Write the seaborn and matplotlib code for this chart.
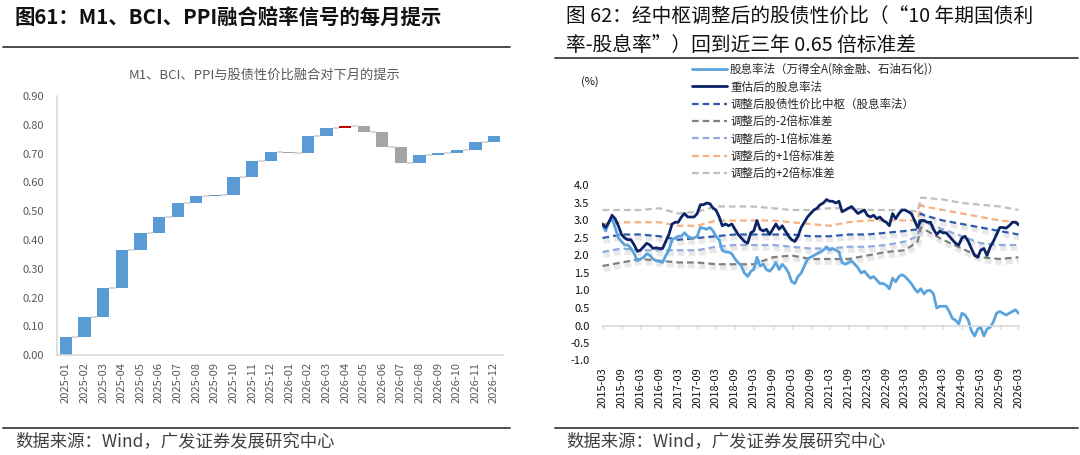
import numpy as np
import pandas as pd
import matplotlib
matplotlib.use('Agg')
import matplotlib.pyplot as plt
import matplotlib.patheffects as pe
from matplotlib.lines import Line2D
import seaborn as sns

sns.set_theme(style='white')
plt.rcParams['font.family'] = ['Noto Sans CJK SC', 'DejaVu Sans']
plt.rcParams['axes.unicode_minus'] = False

# ---- 左图：融合信号瀑布图（累计水平）----
wf_months = ['2025-01', '2025-02', '2025-03', '2025-04', '2025-05', '2025-06',
             '2025-07', '2025-08', '2025-09', '2025-10', '2025-11', '2025-12',
             '2026-01', '2026-02', '2026-03', '2026-04', '2026-05', '2026-06',
             '2026-07', '2026-08', '2026-09', '2026-10', '2026-11', '2026-12']
wf_levels = [0.063, 0.133, 0.234, 0.365, 0.426, 0.479, 0.527, 0.552, 0.555, 0.620,
             0.673, 0.706, 0.703, 0.760, 0.789, 0.796, 0.774, 0.724, 0.669, 0.696,
             0.702, 0.713, 0.742, 0.761]
wf_highlight = '2026-04'

# ---- 右图：股息率法与重估后的股息率法（月度）----
dy_start, dy_end = '2015-03-01', '2026-03-01'
dividend_yield = [
    2.85, 2.70, 2.95, 3.05, 2.80, 2.50, 2.40, 2.30, 2.30, 2.20, 2.05, 1.85,
    1.90, 1.95, 2.05, 2.00, 1.90, 1.85, 1.83, 1.80, 2.00, 2.15, 2.45, 2.50,
    2.55, 2.55, 2.65, 2.55, 2.50, 2.50, 2.55, 2.80, 2.78, 2.75, 2.80, 2.70,
    2.55, 2.45, 2.15, 2.10, 2.10, 2.05, 1.90, 1.80, 1.70, 1.50, 1.40, 1.55,
    1.60, 1.95, 1.70, 1.75, 1.60, 1.55, 1.65, 1.80, 1.60, 1.75, 1.65, 1.50,
    1.25, 1.20, 1.40, 1.50, 1.70, 1.90, 1.95, 2.00, 2.05, 2.10, 2.15, 2.25,
    2.15, 2.20, 2.15, 2.10, 1.80, 1.75, 1.80, 1.85, 1.75, 1.65, 1.50, 1.55,
    1.45, 1.35, 1.40, 1.30, 1.20, 1.20, 1.15, 1.05, 1.35, 1.25, 1.40, 1.45,
    1.40, 1.30, 1.20, 1.05, 0.95, 1.05, 0.90, 1.00, 1.00, 0.90, 0.50, 0.55,
    0.55, 0.55, 0.40, 0.20, 0.15, 0.05, 0.35, 0.30, 0.15, -0.15, -0.30, -0.10,
    -0.05, -0.30, -0.10, -0.05, 0.10, 0.35, 0.40, 0.35, 0.30, 0.35, 0.40, 0.45,
    0.35]
revalued_yield = [
    2.90, 2.80, 2.95, 3.15, 3.05, 2.85, 2.60, 2.50, 2.45, 2.45, 2.30, 2.12,
    2.15, 2.25, 2.35, 2.30, 2.20, 2.22, 2.20, 2.20, 2.40, 2.60, 2.90, 2.95,
    2.95, 3.10, 3.20, 3.10, 3.10, 3.10, 3.20, 3.45, 3.45, 3.50, 3.48, 3.35,
    3.30, 3.10, 2.85, 2.90, 2.85, 2.90, 2.75, 2.60, 2.50, 2.40, 2.35, 2.65,
    2.70, 3.00, 2.75, 2.70, 2.75, 2.60, 2.75, 2.90, 2.75, 2.85, 2.70, 2.55,
    2.45, 2.40, 2.55, 2.80, 2.95, 3.10, 3.20, 3.30, 3.35, 3.45, 3.50, 3.60,
    3.55, 3.55, 3.50, 3.55, 3.25, 3.30, 3.35, 3.40, 3.30, 3.20, 3.25, 3.30,
    3.15, 3.10, 3.15, 3.05, 3.10, 3.00, 2.95, 2.85, 3.20, 3.05, 3.20, 3.30,
    3.30, 3.25, 3.20, 3.00, 2.80, 3.00, 3.00, 2.95, 2.95, 2.75, 2.60, 2.70,
    2.65, 2.65, 2.55, 2.45, 2.35, 2.30, 2.50, 2.55, 2.40, 2.20, 2.00, 1.95,
    2.15, 2.20, 2.00, 2.25, 2.40, 2.60, 2.80, 2.80, 2.78, 2.85, 2.95, 2.95,
    2.88]

# ---- 右图：调整后中枢与标准差带（节点）----
band_dates = ['2015-03', '2015-09', '2016-03', '2016-09', '2017-03', '2017-09',
              '2018-03', '2018-09', '2019-03', '2019-09', '2020-03', '2020-09',
              '2021-03', '2021-09', '2022-03', '2022-09', '2023-03', '2023-07',
              '2023-08', '2023-09', '2024-03', '2024-09', '2025-03', '2025-09',
              '2026-03']
band_plus2 = [3.30, 3.30, 3.30, 3.35, 3.20, 3.25, 3.40, 3.40, 3.40, 3.35, 3.30, 3.30,
              3.35, 3.35, 3.30, 3.30, 3.30, 3.25, 3.65, 3.65, 3.60, 3.50, 3.45, 3.40, 3.30]
band_plus1 = [2.90, 2.95, 2.95, 2.95, 2.85, 2.85, 3.00, 3.00, 3.00, 3.00, 2.95, 2.90,
              2.85, 2.95, 3.00, 3.00, 3.00, 3.00, 3.45, 3.40, 3.30, 3.20, 3.10, 3.00, 2.95]
band_center = [2.50, 2.60, 2.60, 2.55, 2.45, 2.50, 2.55, 2.60, 2.60, 2.60, 2.60, 2.55,
               2.55, 2.60, 2.60, 2.65, 2.70, 2.75, 3.20, 3.15, 3.00, 2.90, 2.80, 2.70, 2.60]
band_minus1 = [2.10, 2.20, 2.15, 2.15, 2.15, 2.15, 2.25, 2.30, 2.30, 2.30, 2.25, 2.20,
               2.20, 2.25, 2.25, 2.30, 2.40, 2.55, 3.00, 2.95, 2.75, 2.55, 2.35, 2.30, 2.30]
band_minus2 = [1.70, 1.80, 1.90, 1.85, 1.80, 1.80, 1.75, 1.75, 1.75, 1.95, 2.00, 1.90,
               1.90, 1.90, 2.00, 2.10, 2.15, 2.40, 2.80, 2.75, 2.45, 2.20, 1.95, 1.90, 1.95]

W, H = 1080, 455
fig = plt.figure(figsize=(W / 100, H / 100), dpi=100)
fig.patch.set_facecolor('white')


def fx(px):
    return px / W


def fy(py):
    return 1 - py / H


# 标题与分隔线
fig.text(fx(15), fy(17), '图61：M1、BCI、PPI融合赔率信号的每月提示', fontsize=14.7,
         fontweight='bold', va='center', ha='left', color='#111111')
fig.text(fx(566), fy(17), '图 62：经中枢调整后的股债性价比（“10 年期国债利', fontsize=14.2,
         va='center', ha='left', color='#111111')
fig.text(fx(566), fy(45), '率-股息率”）回到近三年 0.65 倍标准差', fontsize=14.2,
         va='center', ha='left', color='#111111')
for x0, x1, y in [(3, 510, 47), (555, 1078, 58), (3, 510, 428), (555, 1078, 428)]:
    fig.add_artist(Line2D([fx(x0), fx(x1)], [fy(y), fy(y)], color='#404040', lw=1.3))
for x0 in (15, 566):
    fig.text(fx(x0), fy(441), '数据来源：Wind，广发证券发展研究中心', fontsize=12.5,
             va='center', ha='left', color='#404040')

# ---- 左图 ----
ax1 = fig.add_axes([fx(56.7), fy(355.3), fx(503.3 - 56.7), (355.3 - 96) / H])
levels = np.array(wf_levels)
prev = np.concatenate([[0.0], levels[:-1]])
delta = levels - prev
xpos = np.arange(len(wf_months))
colors = ['#C00000' if m == wf_highlight else ('#5B9BD5' if d > 0 else '#A5A5A5')
          for m, d in zip(wf_months, delta)]
bw = 0.66
ax1.hlines(levels[:-1], xpos[:-1] + bw / 2, xpos[1:] - bw / 2, color='#D9D9D9', lw=1.5)
ax1.bar(xpos, np.abs(delta), bottom=np.minimum(prev, levels), width=bw, color=colors,
        linewidth=0)
ax1.set_xlim(-0.5, len(wf_months) - 0.5)
ax1.set_ylim(0, 0.9)
ax1.set_yticks(np.arange(0, 0.91, 0.1))
ax1.yaxis.set_major_formatter(matplotlib.ticker.FormatStrFormatter('%.2f'))
ax1.set_xticks(xpos)
ax1.set_xticklabels(wf_months, rotation=90)
ax1.tick_params(axis='both', length=0, labelsize=8, labelcolor='#595959')
ax1.tick_params(axis='y', pad=9)
ax1.tick_params(axis='x', pad=5)
sns.despine(ax=ax1)
for s in ('left', 'bottom'):
    ax1.spines[s].set_color('#D9D9D9')
    ax1.spines[s].set_linewidth(1.2)
ax1.grid(False)
fig.text(fx(264), fy(75), 'M1、BCI、PPI与股债性价比融合对下月的提示', fontsize=9.5,
         color='#595959', ha='center', va='center')

# ---- 右图 ----
ax2 = fig.add_axes([fx(602), fy(360.5), fx(1019 - 602), (360.5 - 185.5) / H])
months = pd.date_range(dy_start, dy_end, freq='MS')
bdates = pd.to_datetime(band_dates)

dash = (0, (3, 1.8))
shadow = [pe.SimpleLineShadow(offset=(0.8, -2.5), shadow_color='#808080', alpha=0.18,
                              linewidth=3.5), pe.Normal()]
band_specs = [
    (band_plus2, '#BFBFBF', False),
    (band_plus1, '#F4B183', False),
    (band_minus1, '#8FAADC', True),
    (band_minus2, '#7F7F7F', True),
    (band_center, '#2F5BAA', True),
]
for vals, col, has_shadow in band_specs:
    kw = {'path_effects': shadow} if has_shadow else {}
    sns.lineplot(x=bdates, y=vals, ax=ax2, color=col, lw=1.6, linestyle=dash,
                 legend=False, **kw)
sns.lineplot(x=months, y=dividend_yield, ax=ax2, color='#5BA3DC', lw=2.0, legend=False)
sns.lineplot(x=months, y=revalued_yield, ax=ax2, color='#0B2466', lw=2.0, legend=False)

ax2.set_ylim(-1.0, 4.0)
ax2.set_yticks(np.arange(-1.0, 4.01, 0.5))
ax2.yaxis.set_major_formatter(matplotlib.ticker.FormatStrFormatter('%.1f'))
ax2.set_xlim(months[0] - pd.Timedelta(days=5), months[-1] + pd.Timedelta(days=5))
ax2.set_xlabel('')
ax2.set_ylabel('')
for s in ('top', 'right', 'left'):
    ax2.spines[s].set_visible(False)
ax2.spines['bottom'].set_position(('data', 0))
ax2.spines['bottom'].set_color('#D9D9D9')
ax2.spines['bottom'].set_linewidth(1.2)
xt = pd.date_range(dy_start, dy_end, freq='6MS')
ax2.set_xticks(xt)
ax2.set_xticklabels([d.strftime('%Y-%m') for d in xt])
ax2.tick_params(axis='x', length=2.5, width=1, color='#D9D9D9', pad=27.5,
                labelsize=8, labelcolor='#111111', direction='out', bottom=True,
                labelrotation=90)
ax2.tick_params(axis='y', length=0, labelsize=8, labelcolor='#111111', pad=9)
ax2.grid(False)
fig.text(fx(590), fy(82), '(%)', fontsize=8, color='#111111', ha='center', va='center')

handles = [
    Line2D([], [], color='#5BA3DC', lw=2.0),
    Line2D([], [], color='#0B2466', lw=2.0),
    Line2D([], [], color='#2F5BAA', lw=1.6, linestyle=dash),
    Line2D([], [], color='#7F7F7F', lw=1.6, linestyle=dash),
    Line2D([], [], color='#8FAADC', lw=1.6, linestyle=dash),
    Line2D([], [], color='#F4B183', lw=1.6, linestyle=dash),
    Line2D([], [], color='#BFBFBF', lw=1.6, linestyle=dash),
]
labels = ['股息率法（万得全A(除金融、石油石化)）', '重估后的股息率法',
          '调整后股债性价比中枢（股息率法）', '调整后的-2倍标准差', '调整后的-1倍标准差',
          '调整后的+1倍标准差', '调整后的+2倍标准差']
fig.legend(handles, labels, loc='upper left', bbox_to_anchor=(fx(692), fy(63)),
           frameon=False, fontsize=8.3, handlelength=3.0, handletextpad=0.3,
           labelspacing=0.38, borderaxespad=0, borderpad=0)

fig.savefig('out.png', dpi=100, facecolor='white')
